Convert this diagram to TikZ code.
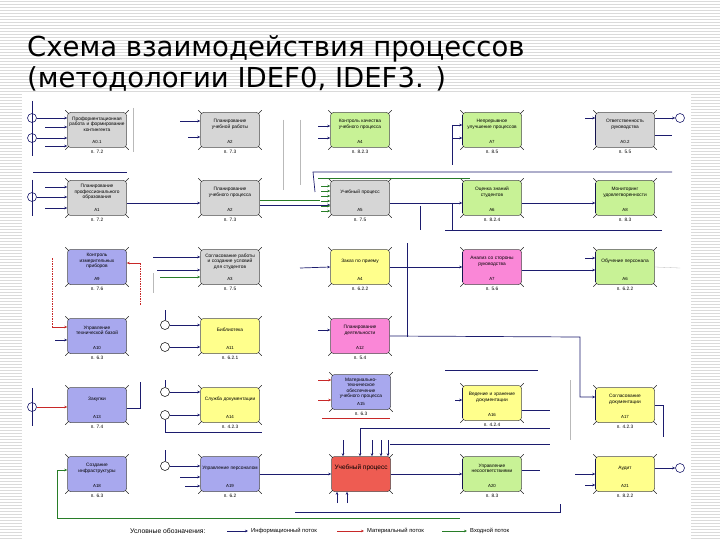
\documentclass[tikz,border=0pt]{standalone}
\usepackage{fontspec}
\setmainfont{Liberation Sans}
\newfontfamily\titlefont{DejaVu Sans}
\usetikzlibrary{positioning,arrows.meta}
\definecolor{boxgray}{RGB}{214,214,214}
\definecolor{boxgreen}{RGB}{200,242,150}
\definecolor{boxblue}{RGB}{168,168,238}
\definecolor{boxyellow}{RGB}{255,255,140}
\definecolor{boxpink}{RGB}{250,135,215}
\definecolor{boxred}{RGB}{238,92,82}
\definecolor{flownavy}{RGB}{28,28,110}
\definecolor{flowred}{RGB}{200,40,40}
\definecolor{flowgreen}{RGB}{40,125,40}
\definecolor{stripegray}{RGB}{218,218,218}
\tikzset{
  proc/.style={draw=gray!60!black, line width=0.5pt, rounded corners=3pt, minimum width=59pt, minimum height=35pt, inner sep=0pt},
  gbox/.style={proc, fill=boxgray},
  grbox/.style={proc, fill=boxgreen},
  bbox/.style={proc, fill=boxblue},
  ybox/.style={proc, fill=boxyellow},
  pbox/.style={proc, fill=boxpink},
  rbox/.style={proc, fill=boxred},
  boxtxt/.style={font=\fontsize{4.8}{5.5}\selectfont, align=center, text width=56pt, inner sep=0pt, anchor=center, yshift=-12pt},
  boxcode/.style={font=\fontsize{4.4}{5}\selectfont, inner sep=0pt, anchor=center, yshift=6pt},
  boxref/.style={font=\fontsize{4.8}{5}\selectfont, inner sep=0pt, anchor=north, yshift=-2pt},
  info/.style={draw=flownavy, line width=0.7pt, -{Stealth[length=3pt,width=2.6pt]}},
  infoline/.style={draw=flownavy, line width=0.7pt},
  mat/.style={draw=flowred, line width=0.6pt, -{Stealth[length=3pt,width=2.6pt]}},
  matline/.style={draw=flowred, line width=0.6pt, dash pattern=on 1.5pt off 1pt},
  inp/.style={draw=flowgreen, line width=0.7pt, -{Stealth[length=3pt,width=2.6pt]}},
  inpline/.style={draw=flowgreen, line width=0.7pt},
  faint/.style={draw=gray!55, line width=0.3pt},
  circ/.style={circle, draw=flownavy, line width=0.6pt, minimum size=9pt, inner sep=0pt},
  jcirc/.style={circle, draw=black, line width=0.5pt, minimum size=9pt, inner sep=0pt, fill=white},
  corner/.style={draw=gray!30!black, line width=0.5pt},
  leftedge/.style={draw=flownavy!70!black, line width=1.3pt},
  legtxt/.style={font=\fontsize{5.8}{6}\selectfont, inner sep=0pt, anchor=west}
}
\begin{document}
\begin{tikzpicture}[x=1pt,y=-1pt]
\useasboundingbox (0,0) rectangle (720,540);
\foreach \y in {1,4,...,539} \draw[draw=stripegray, line width=0.8pt] (0,\y) -- (720,\y);
\fill[white] (22,93) rectangle (691,540);

\node[anchor=base west, inner sep=0pt, font=\titlefont\fontsize{27.5}{30}\selectfont] (t1) at (27,57) {Схема взаимодействия процессов};
\node[anchor=base west, inner sep=0pt, font=\titlefont\fontsize{27.5}{30}\selectfont] (t2) at (27,88) {(методологии IDEF0, IDEF3. )};

\node[gbox, label={[boxtxt]north:Профориентационная работа и формирование контингента}, label={[boxcode]south:А0.1}, label={[boxref]south:п. 7.2}] (a1) at (97,130) {};
\node[gbox, label={[boxtxt]north:Планирование учебной работы}, label={[boxcode]south:А2}, label={[boxref]south:п. 7.3}] (b1) at (230,130) {};
\node[grbox, label={[boxtxt]north:Контроль качества учебного процесса}, label={[boxcode]south:А4}, label={[boxref]south:п. 8.2.3}] (c1) at (360,130) {};
\node[grbox, label={[boxtxt]north:Непрерывное улучшение процессов}, label={[boxcode]south:А7}, label={[boxref]south:п. 8.5}] (d1) at (492,130) {};
\node[gbox, label={[boxtxt]north:Ответственность руководства}, label={[boxcode]south:А0.2}, label={[boxref]south:п. 5.5}] (e1) at (625,130) {};

\node[gbox, label={[boxtxt]north:Планирование профессионального образования}, label={[boxcode]south:А1}, label={[boxref]south:п. 7.2}] (a2) at (97,198) {};
\node[gbox, label={[boxtxt]north:Планирование учебного процесса}, label={[boxcode]south:А2}, label={[boxref]south:п. 7.3}] (b2) at (230,198) {};
\node[gbox, label={[boxtxt]north:Учебный процесс}, label={[boxcode]south:А5}, label={[boxref]south:п. 7.5}] (c2) at (360,198) {};
\node[grbox, label={[boxtxt]north:Оценка знаний студентов}, label={[boxcode]south:А6}, label={[boxref]south:п. 8.2.4}] (d2) at (492,198) {};
\node[grbox, label={[boxtxt]north:Мониторинг удовлетворенности}, label={[boxcode]south:А8}, label={[boxref]south:п. 8.3}] (e2) at (625,198) {};

\node[bbox, label={[boxtxt]north:Контроль измерительных приборов}, label={[boxcode]south:А9}, label={[boxref]south:п. 7.6}] (a3) at (97,267) {};
\node[gbox, label={[boxtxt]north:Согласование работы и создание условий для студентов}, label={[boxcode]south:А3}, label={[boxref]south:п. 7.5}] (b3) at (230,267) {};
\node[ybox, label={[boxtxt]north:Заказ по приему}, label={[boxcode]south:А4}, label={[boxref]south:п. 6.2.2}] (c3) at (360,267) {};
\node[pbox, label={[boxtxt]north:Анализ со стороны руководства}, label={[boxcode]south:А7}, label={[boxref]south:п. 5.6}] (d3) at (492,267) {};
\node[grbox, label={[boxtxt]north:Обучение персонала}, label={[boxcode]south:А6}, label={[boxref]south:п. 6.2.2}] (e3) at (625,267) {};

\node[bbox, label={[boxtxt]north:Управление технической базой}, label={[boxcode]south:А10}, label={[boxref]south:п. 6.3}] (a4) at (97,336) {};
\node[ybox, label={[boxtxt]north:Библиотека}, label={[boxcode]south:А11}, label={[boxref]south:п. 6.2.1}] (b4) at (230,336) {};
\node[pbox, label={[boxtxt]north:Планирование деятельности}, label={[boxcode]south:А12}, label={[boxref]south:п. 5.4}] (c4) at (360,336) {};

\node[bbox, label={[boxtxt]north:Закупки}, label={[boxcode]south:А13}, label={[boxref]south:п. 7.4}] (a5) at (97,405) {};
\node[ybox, label={[boxtxt]north:Служба документации}, label={[boxcode]south:А14}, label={[boxref]south:п. 4.2.3}] (b5) at (230,405) {};
\node[bbox, label={[boxtxt, yshift=-2pt]north:Материально-техническое обеспечение учебного процесса}, label={[boxcode]south:А15}, label={[boxref]south:п. 6.3}] (c5) at (361,392) {};
\node[ybox, label={[boxtxt]north:Ведение и хранение документации}, label={[boxcode]south:А16}, label={[boxref]south:п. 4.2.4}] (d5) at (492,403) {};
\node[ybox, label={[boxtxt]north:Согласование документации}, label={[boxcode]south:А17}, label={[boxref]south:п. 4.2.3}] (e5) at (625,405) {};

\node[bbox, label={[boxtxt]north:Создание инфраструктуры}, label={[boxcode]south:А18}, label={[boxref]south:п. 6.3}] (a6) at (97,474) {};
\node[bbox, label={[boxtxt]north:Управление персоналом}, label={[boxcode]south:А19}, label={[boxref]south:п. 6.2}] (b6) at (230,474) {};
\node[rbox, label={[anchor=center, yshift=-12pt, inner sep=0pt, font=\fontsize{6.5}{7}\selectfont]north:Учебный процесс}] (c6) at (361,474) {};
\node[grbox, label={[boxtxt]north:Управление несоответствиями}, label={[boxcode]south:А20}, label={[boxref]south:п. 8.3}] (d6) at (492,474) {};
\node[ybox, label={[boxtxt]north:Аудит}, label={[boxcode]south:А21}, label={[boxref]south:п. 8.2.2}] (e6) at (625,474) {};

\foreach \n in {a1,b1,c1,d1,e1,a2,b2,c2,d2,e2,a3,b3,c3,d3,e3,a4,b4,c4,a5,b5,c5,d5,e5,a6,b6,c6,d6,e6} {
  \draw[corner] ([shift={(-2pt,2pt)}]\n.north west) -- ([shift={(1.5pt,-1.5pt)}]\n.north west);
  \draw[corner] ([shift={(2pt,2pt)}]\n.north east) -- ([shift={(-1.5pt,-1.5pt)}]\n.north east);
  \draw[corner] ([shift={(-2pt,-2pt)}]\n.south west) -- ([shift={(1.5pt,1.5pt)}]\n.south west);
  \draw[corner] ([shift={(2pt,-2pt)}]\n.south east) -- ([shift={(-1.5pt,1.5pt)}]\n.south east);
}
\foreach \n in {d1,e1,d2,e2,d3,e3,d5,e5,d6,e6}
  \draw[leftedge] ([yshift=-3pt]\n.north west) -- ([yshift=3pt]\n.south west);

\node[circ] (s1) at (32,118) {};
\node[circ] (s2) at (32,138) {};
\node[circ] (s3) at (32,197) {};
\node[circ] (s4) at (32,407) {};
\node[circ] (end1) at (680,118) {};
\node[circ] (end2) at (680,468) {};
\node[jcirc] (q1) at (165,325) {};
\node[jcirc] (q2) at (165,347) {};
\node[jcirc] (q3) at (165,392) {};
\node[jcirc] (q4) at (165,415) {};
\node[jcirc] (q5) at (165,466) {};

\coordinate (s0) at (32,101);
\coordinate (s5) at (32,156);
\coordinate (s6) at (32,180);
\coordinate (s7) at (32,216);
\coordinate (s8) at (32,388);
\coordinate (s9) at (32,426);
\coordinate (ain1) at (45,127);
\coordinate (ain2) at (45,146);
\coordinate (fin1) at (45,187);
\coordinate (fin2) at (45,208);
\coordinate (ftop1) at (33,172);
\coordinate (ftop2) at (127,172);
\coordinate (bin1) at (180,121);
\coordinate (bin2) at (188,137);
\coordinate (cin1) at (318,126);
\coordinate (cin2) at (318,138);
\coordinate (din1) at (452,125);
\coordinate (din2) at (452,138);
\coordinate (dv1) at (452,165);
\coordinate (ein1) at (585,118);
\coordinate (eo1) at (672,135);
\coordinate (h1a) at (313,172);
\coordinate (h1b) at (672,172);
\coordinate (h1c) at (315,192);
\coordinate (h2a) at (318,178);
\coordinate (h2b) at (470,178);
\coordinate (h3a) at (445,230);
\coordinate (h3b) at (662,230);
\coordinate (v3a) at (452,203);
\coordinate (v3b) at (420,206);
\coordinate (v3c) at (420,230);
\coordinate (ga) at (283,120);
\coordinate (gb) at (283,190);
\coordinate (gc) at (300,120);
\coordinate (gd) at (300,185);
\coordinate (ge) at (133,108);
\coordinate (gf) at (133,152);
\coordinate (kin1) at (52,258);
\coordinate (kin2) at (52,327);
\coordinate (kr1) at (140,263);
\coordinate (kr2) at (140,305);
\coordinate (pin2) at (55,340);
\coordinate (lin1) at (153,257);
\coordinate (lin2) at (157,270);
\coordinate (lin3) at (160,277);
\coordinate (lv1) at (153,273);
\coordinate (lv2) at (153,293);
\coordinate (min1) at (300,268);
\coordinate (v4a) at (407,243);
\coordinate (v4b) at (407,337);
\coordinate (oin1) at (585,258);
\coordinate (oo1) at (680,268);
\coordinate (q1t) at (165,310);
\coordinate (q3t) at (165,380);
\coordinate (rin1) at (318,330);
\coordinate (rw) at (580,337);
\coordinate (h4a) at (445,370);
\coordinate (h4b) at (538,370);
\coordinate (so1) at (140,408);
\coordinate (so2) at (140,382);
\coordinate (h5a) at (165,432);
\coordinate (h5b) at (262,432);
\coordinate (uin1) at (318,380);
\coordinate (uin2) at (318,400);
\coordinate (h6a) at (322,418);
\coordinate (h6b) at (390,418);
\coordinate (vin1) at (455,400);
\coordinate (vo1) at (550,410);
\coordinate (h7a) at (360,428);
\coordinate (h7b) at (550,428);
\coordinate (h8a) at (390,444);
\coordinate (h8b) at (550,444);
\coordinate (wo1) at (663,437);
\coordinate (vw1) at (570,380);
\coordinate (vw2) at (570,440);
\coordinate (g0) at (57,518);
\coordinate (g1) at (460,518);
\coordinate (q5t) at (165,450);
\coordinate (yin1) at (180,477);
\coordinate (yin2) at (185,486);
\coordinate (zt1) at (343,440);
\coordinate (zt2) at (360,428);
\coordinate (zt3) at (372,440);
\coordinate (zt4) at (381,440);
\coordinate (zt5) at (388,440);
\coordinate (zb1) at (337,503);
\coordinate (zb2) at (347,503);
\coordinate (ao1) at (540,470);
\coordinate (ein2) at (575,474);
\coordinate (ein3) at (585,485);
\coordinate (h9a) at (295,512);
\coordinate (h9b) at (560,512);
\coordinate (h9c) at (560,504);

\draw[infoline] (s0) -- (s5);
\draw[infoline] (s6) -- (s7);
\draw[infoline] (s8) -- (s9);
\draw[info] (s1.east) -- (s1.east -| a1.west);
\draw[info] (ain1) -- (ain1 -| a1.west);
\draw[info] (s2.east) -- (s2.east -| a1.west);
\draw[info] (ain2) -- (ain2 -| a1.west);
\draw[faint] (ge) -- (gf);
\draw[info] (bin1) -- (bin1 -| b1.west);
\draw[info] (bin2) -- (bin2 -| b1.west);
\draw[faint] (ga) -- (gb);
\draw[faint] (gc) -- (gd);
\draw[info] (cin1) -- (cin1 -| c1.west);
\draw[info] (cin2) -- (cin2 -| c1.west);
\draw[info] (din1) -- (din1 -| d1.west);
\draw[info] (din2) -- (din2 -| d1.west);
\draw[infoline] (din1) -- (dv1);
\draw[info] (ein1) -- (ein1 -| e1.west);
\draw[info] (e1.east |- end1) -- (end1.west);
\draw[infoline] (e1.east |- eo1) -- (eo1);
\draw[infoline] (h1c) -- (h1a) -- (h1b);
\draw[inpline] (h2a) -- (h2b);

\draw[infoline] (ftop1) -- (ftop2);
\draw[info] (fin1) -- (fin1 -| a2.west);
\draw[info] (s3.east) -- (s3.east -| a2.west);
\draw[info] (fin2) -- (fin2 -| a2.west);
\draw[info] ([yshift=-5pt]a2.east) -- ([yshift=-5pt]b2.west);
\draw[info] ([yshift=-7pt]b2.east) -- ([yshift=-7pt]c2.west);
\draw[inpline] ([yshift=-2pt]b2.east) -- ([xshift=-10pt,yshift=-2pt]c2.west);
\foreach \dy in {-13pt,-8pt,-3pt,2pt,7pt,12pt}
  \draw[inp] ([xshift=-9pt,yshift=\dy]c2.west) -- ([yshift=\dy]c2.west);
\draw[info] ([yshift=-5pt]c2.east) -- ([yshift=-5pt]d2.west);
\draw[info] ([yshift=-5pt]d2.east) -- ([yshift=-5pt]e2.west);
\draw[infoline] (v3a) -- (v3a |- h3a);
\draw[infoline] (v3b) -- (v3c);
\draw[infoline] (h3a) -- (h3b);

\draw[matline] (kin1) -- (kin2);
\draw[mat] (kin2) -- (kin2 -| a4.west);
\draw[mat] (kr1) -- (kr1 -| a3.east);
\draw[matline] (kr1) -- (kr2);
\draw[info] (pin2) -- (pin2 -| a4.west);
\draw[info] (lin1) -- (lin1 -| b3.west);
\draw[info] (lin2) -- (lin2 -| b3.west);
\draw[inp] (lin3) -- (lin3 -| b3.west);
\draw[faint] (lv1) -- (lv2);
\draw[info] (min1) -- (c3.west);
\draw[info] (c3.east) -- (d3.west);
\draw[infoline] (v4a) -- (v4b);
\draw[info] ([yshift=-3pt]d3.east) -- ([yshift=-3pt]e3.west);
\draw[info] (oin1) -- (oin1 -| e3.west);
\draw[faint] (e3.east) -- (oo1);

\draw[infoline] (q1t) -- (q1.north);
\draw[info] (q1.east) -- (q1.east -| b4.west);
\draw[info] (q2.east) -- (q2.east -| b4.west);
\draw[info] (rin1) -- (rin1 -| c4.west);
\draw[info] (c4.east) -- (rw) |- ([yshift=8pt]e5.west);
\draw[infoline] (h4a) -- (h4b);

\draw[mat] (s4.east) -- (s4.east -| a5.west);
\draw[infoline] (a5.east |- so1) -- (so1) -- (so2);
\draw[infoline] (q3t) -- (q3.north);
\draw[info] (q3.east) -- (q3.east -| b5.west);
\draw[info] (q4.east) -- (q4.east -| b5.west);
\draw[infoline] (q4.south) -- (h5a) -- (h5b);
\draw[mat] (uin1) -- (uin1 -| c5.west);
\draw[mat] (uin2) -- (uin2 -| c5.west);
\draw[draw=flowred, line width=0.6pt] (h6a) -- (h6b);
\draw[info] (vin1) -- (vin1 -| d5.west);
\draw[infoline] (d5.east |- vo1) -- (vo1);
\draw[infoline] (h7a) -- (h7b);
\draw[infoline] (h8a) -- (h8b);
\draw[faint] (vw1) -- (vw2);
\draw[infoline] (e5.east) -| (wo1);

\draw[inpline] (g0) -- (g1);
\draw[inp] (g0) |- ([yshift=4pt]a6.west);
\draw[infoline] (q5t) -- (q5.north);
\draw[info] (q5.east) -- (q5.east -| b6.west);
\draw[info] (yin1) -- (yin1 -| b6.west);
\draw[info] (yin2) -- (yin2 -| b6.west);
\draw[info] (b6.east) -- (c6.west);
\foreach \z in {zt1,zt2,zt3,zt4,zt5}
  \draw[info] (\z) -- (\z |- c6.north);
\draw[info] (zb1) -- (zb1 |- c6.south);
\draw[info] (zb2) -- (zb2 |- c6.south);
\draw[info] (c6.east) -- (d6.west);
\draw[infoline] (d6.east |- ao1) -- (ao1);
\draw[info] (ein2) -- (ein2 -| e6.west);
\draw[info] (ein3) -- (ein3 -| e6.west);
\draw[info] (e6.east |- end2) -- (end2.west);
\draw[infoline] (h9a) -- (h9b) -- (h9c);

\node[legtxt, font=\fontsize{6.8}{7}\selectfont] (leg) at (130,531) {Условные обозначения:};
\coordinate (l1a) at (227,531);
\coordinate (l1b) at (248,531);
\coordinate (l2a) at (337,531);
\coordinate (l2b) at (364,531);
\coordinate (l3a) at (442,531);
\coordinate (l3b) at (467,531);
\draw[info] (l1a) -- (l1b);
\draw[mat] (l2a) -- (l2b);
\draw[inp] (l3a) -- (l3b);
\node[legtxt] (leg1) at (251,531) {Информационный поток};
\node[legtxt] (leg2) at (367,531) {Материальный поток};
\node[legtxt] (leg3) at (470,531) {Входной поток};
\end{tikzpicture}
\end{document}
